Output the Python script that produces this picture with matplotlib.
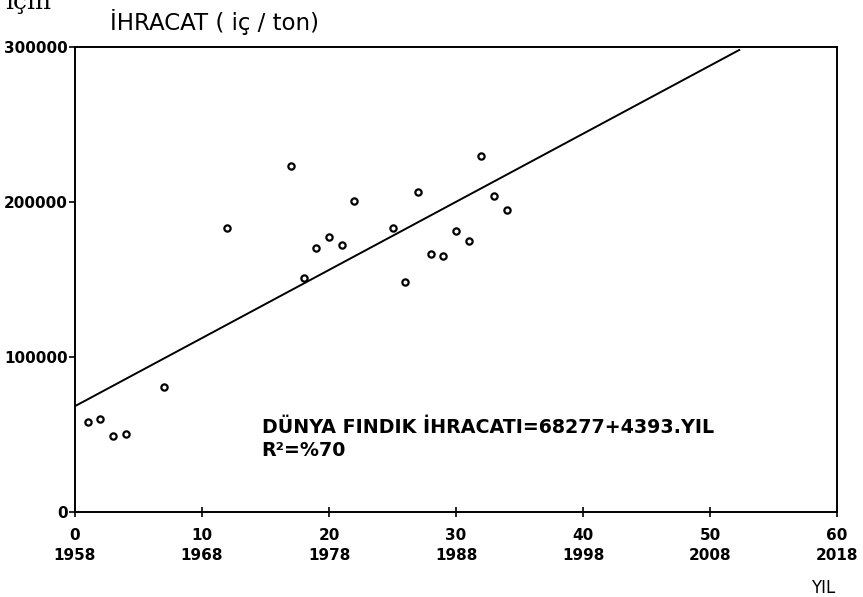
import matplotlib
matplotlib.use('Agg')
import matplotlib.pyplot as plt

# Years since 1958 and world hazelnut exports (tons)
yil = [1, 2, 3, 4, 7, 12, 17, 18, 19, 20, 21, 22, 25, 26, 27, 28, 29, 30, 31, 32, 33, 34]
ihracat = [58000, 60000, 49000, 50300, 80600, 183000, 223400, 150800, 170500, 177600, 172000,
           200400, 183400, 148200, 206600, 166500, 165000, 181100, 174800, 229500, 203700, 194800]

# Fitted trend: 68277 + 4393 * YIL
a_sabit = 68277
b_egim = 4393
trend_x = [0, 52.3]

x_ticks = [0, 10, 20, 30, 40, 50, 60]
x_labels = ['0\n1958', '10\n1968', '20\n1978', '30\n1988', '40\n1998', '50\n2008', '60\n2018']
y_ticks = [0, 100000, 200000, 300000]
y_labels = ['0', '100000', '200000', '300000']

plt.rcParams['font.family'] = ['DejaVu Sans']

fig = plt.figure(figsize=(8.63, 5.97), dpi=100)
ax = fig.add_axes([0.0869, 0.1424, 0.883, 0.779])

ax.plot(trend_x, [a_sabit + b_egim * x for x in trend_x], color='black', lw=1.4)
ax.plot(yil, ihracat, linestyle='none', marker='o', markersize=4.5, markerfacecolor='white',
        markeredgecolor='black', markeredgewidth=1.6)

ax.set_xlim(0, 60)
ax.set_ylim(0, 300000)
ax.set_xticks(x_ticks)
ax.set_xticklabels(x_labels, fontsize=11, fontweight='bold', linespacing=1.45)
ax.set_yticks(y_ticks)
ax.set_yticklabels(y_labels, fontsize=11, fontweight='bold')
ax.tick_params(axis='x', direction='inout', length=7, width=1.2, pad=8)
ax.tick_params(axis='y', direction='out', length=4, width=1.2, pad=1)
for s in ax.spines.values():
    s.set_linewidth(1.4)

ax.text(0.245, 0.181, 'DÜNYA FINDIK İHRACATI=68277+4393.YIL', transform=ax.transAxes,
        fontsize=13.7, fontweight='bold', va='center', ha='left')
ax.text(0.245, 0.133, 'R²=%70', transform=ax.transAxes, fontsize=13.7, fontweight='bold',
        va='center', ha='left')

fig.text(110 / 863, 1 - 22 / 597, 'İHRACAT ( iç / ton)', fontsize=16.5, va='center', ha='left')
fig.text(835 / 863, 1 - 588 / 597, 'YIL', fontsize=12, va='center', ha='right')
fig.text(5 / 863, 1 - 9 / 597, 'için', fontsize=18, family='DejaVu Serif', va='baseline', ha='left')

fig.savefig('out.png', dpi=100)
